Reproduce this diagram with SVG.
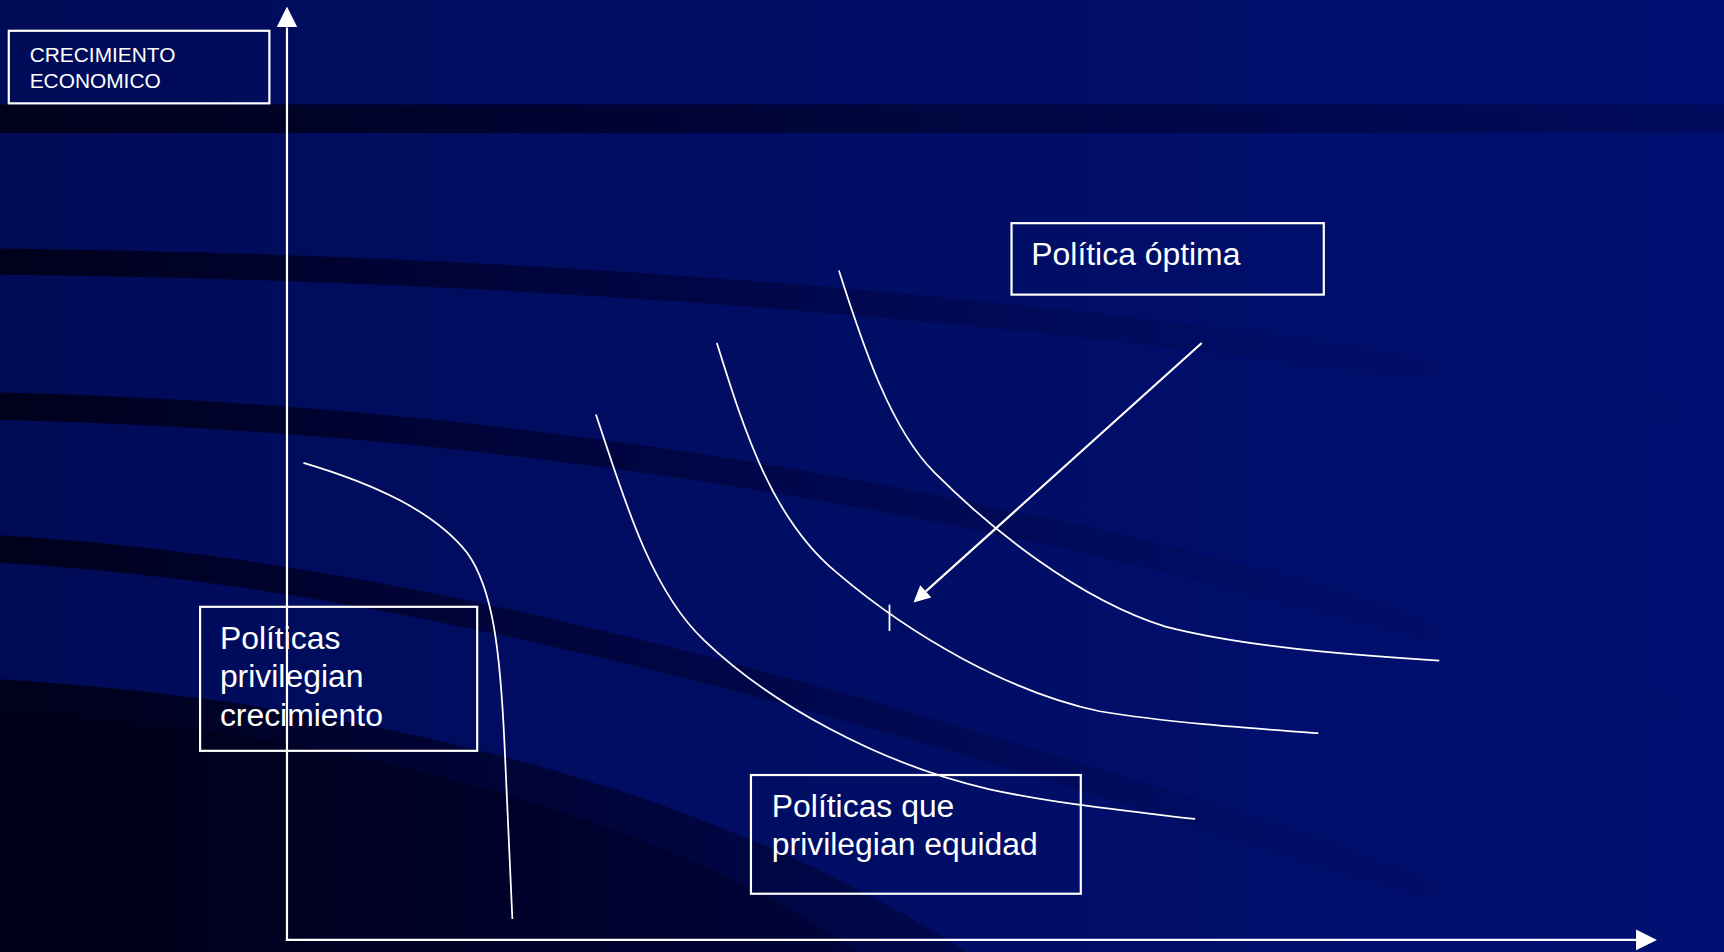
<svg xmlns="http://www.w3.org/2000/svg" width="1724" height="952" viewBox="0 0 1724 952">
<defs>
<linearGradient id="bg" x1="0" y1="0" x2="1" y2="0">
<stop offset="0" stop-color="#000B58"/>
<stop offset="1" stop-color="#001072"/>
</linearGradient>
<linearGradient id="band" gradientUnits="userSpaceOnUse" x1="0" y1="0" x2="1568" y2="0">
<stop offset="0" stop-color="#000018" stop-opacity="0.95"/>
<stop offset="0.45" stop-color="#000030" stop-opacity="0.5"/>
<stop offset="0.8" stop-color="#000850" stop-opacity="0.15"/>
<stop offset="1" stop-color="#000a60" stop-opacity="0"/>
</linearGradient>
<linearGradient id="band1" gradientUnits="userSpaceOnUse" x1="0" y1="0" x2="1568" y2="0">
<stop offset="0" stop-color="#000018" stop-opacity="0.95"/>
<stop offset="1" stop-color="#000030" stop-opacity="0.3"/>
</linearGradient>
<linearGradient id="dark" gradientUnits="userSpaceOnUse" x1="0" y1="0" x2="900" y2="0">
<stop offset="0" stop-color="#000018" stop-opacity="0.95"/>
<stop offset="1" stop-color="#000030" stop-opacity="0.45"/>
</linearGradient>
<marker id="head" viewBox="0 0 10 10" refX="0" refY="5" markerUnits="userSpaceOnUse" markerWidth="19" markerHeight="20" orient="auto">
<path d="M0,0 L10,5 L0,10 Z" fill="#ffffff"/>
</marker>
<marker id="head2" viewBox="0 0 10 10" refX="0" refY="5" markerUnits="userSpaceOnUse" markerWidth="20" markerHeight="15" orient="auto">
<path d="M0,0 L10,5 L0,10 Z" fill="#ffffff"/>
</marker>
</defs>
<style>
.box{fill:none;stroke:#ffffff;stroke-width:2}
.t{font-family:"Liberation Sans",Arial,sans-serif;fill:#ffffff}
.big{font-size:29px}
.small{font-size:19px}
.curve{fill:none;stroke:#ffffff;stroke-width:1.6}
.axis{fill:none;stroke:#ffffff;stroke-width:2}
</style>
<g transform="scale(1.09949 1.09931)">
<g id="background">
<rect x="0" y="0" width="1568" height="866" fill="url(#bg)"/>
<rect x="0" y="95" width="1568" height="26" fill="url(#band1)"/>
<path d="M0,226 C500,232 1050,270 1600,375 L1600,398 C1050,295 500,255 0,250 Z" fill="url(#band)"/>
<path d="M0,357 C450,368 1000,440 1600,660 L1600,685 C1000,465 450,393 0,382 Z" fill="url(#band)"/>
<path d="M0,487 C300,505 700,580 1600,900 L1600,925 C700,605 300,530 0,512 Z" fill="url(#band)"/>
<path d="M0,618 C350,640 650,720 880,866 L0,866 Z" fill="url(#dark)"/>
<path d="M0,645 C300,665 600,740 780,866 L0,866 Z" fill="url(#dark)"/>
</g>
<g id="curves">
<path class="curve" d="M276,421 C340,440 395,465 425,503 C448,535 455,590 459,680 C462,750 464,800 466,836"/>
<path class="curve" d="M542,377 C565,445 590,535 640,582 C700,640 800,695 900,718 C960,731 1020,737 1087,745"/>
<path class="curve" d="M652,312 C675,385 700,470 760,520 C830,580 920,630 1000,647 C1060,657 1130,662 1199,667"/>
<path class="curve" d="M763,246 C785,315 810,390 850,430 C900,480 980,545 1060,570 C1130,588 1220,595 1309,601"/>
<line class="curve" x1="809" y1="550" x2="809" y2="574"/>
</g>
<g id="connectors">
<line class="axis" x1="261" y1="856" x2="261" y2="25" marker-end="url(#head)"/>
<line class="axis" x1="260" y1="855" x2="1488" y2="855" marker-end="url(#head)"/>
<line class="axis" x1="1093" y1="312" x2="842" y2="538" marker-end="url(#head2)"/>
</g>
<g id="node-crecimiento-economico">
<rect class="box" x="8" y="28" width="237" height="66"/>
<text class="t small" x="27" y="56">CRECIMIENTO</text>
<text class="t small" x="27" y="80">ECONOMICO</text>
</g>
<g id="node-politica-optima">
<rect class="box" x="920" y="203" width="284" height="65"/>
<text class="t big" x="938" y="241">Política óptima</text>
</g>
<g id="node-privilegian-crecimiento">
<rect class="box" x="182" y="552" width="252" height="131"/>
<text class="t big" x="200" y="590">Políticas</text>
<text class="t big" x="200" y="625">privilegian</text>
<text class="t big" x="200" y="660">crecimiento</text>
</g>
<g id="node-privilegian-equidad">
<rect class="box" x="683" y="705" width="300" height="108"/>
<text class="t big" x="702" y="743">Políticas que</text>
<text class="t big" x="702" y="778">privilegian equidad</text>
</g>
</g>
</svg>
